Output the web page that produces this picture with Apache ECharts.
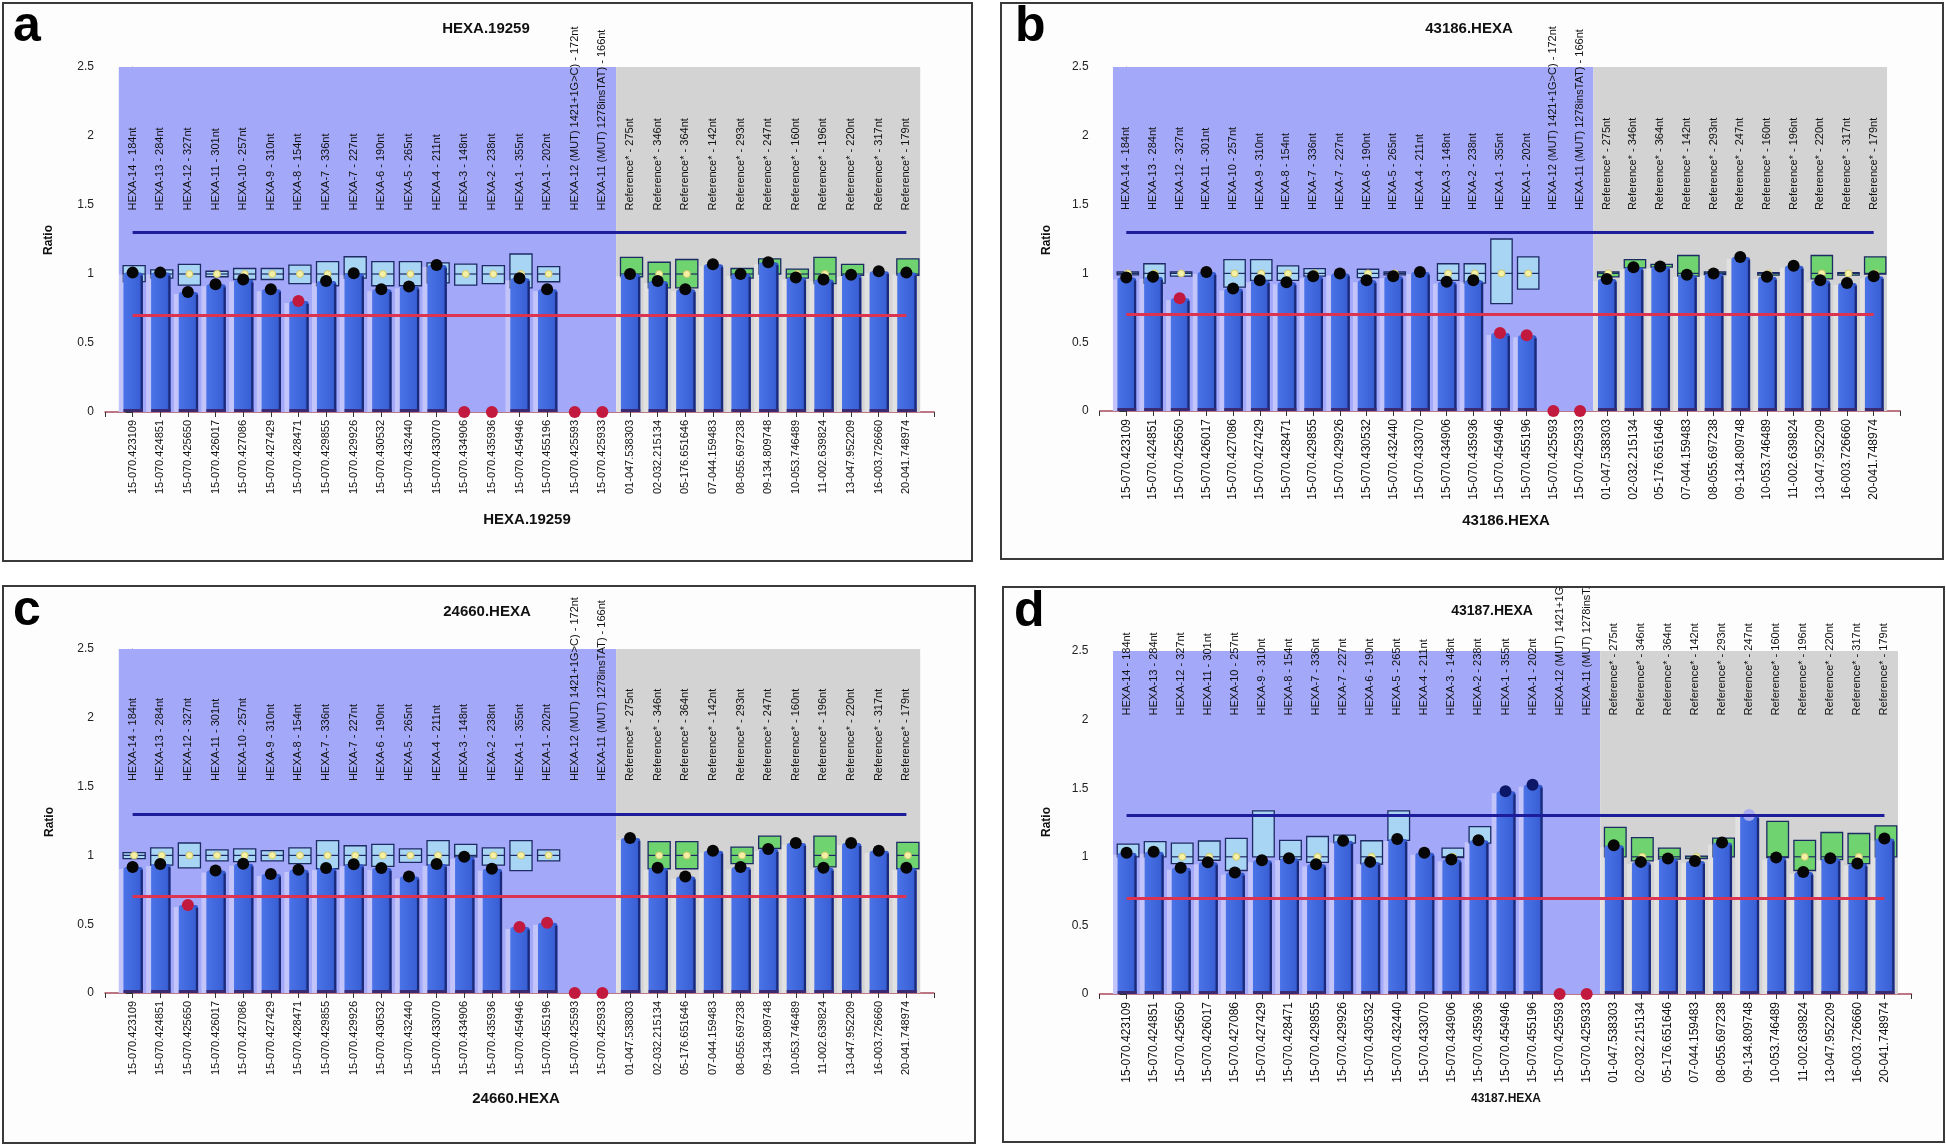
<!DOCTYPE html>
<html><head><meta charset="utf-8">
<script src="https://cdn.jsdelivr.net/npm/echarts/dist/echarts.min.js"></script>
<style>
body{margin:0;background:#fff;width:1946px;height:1146px;position:relative;overflow:hidden;}
.panel{position:absolute;box-sizing:border-box;border:2px solid #3a3a3a;background:#fdfdfd;overflow:hidden;}
</style></head><body>
<div id="pa" class="panel"></div>
<div id="pb" class="panel"></div>
<div id="pc" class="panel"></div>
<div id="pd" class="panel"></div>
<script>
// ---------- labels ----------
const hexaProbes = ['HEXA-14 - 184nt','HEXA-13 - 284nt','HEXA-12 - 327nt','HEXA-11 - 301nt','HEXA-10 - 257nt','HEXA-9 - 310nt','HEXA-8 - 154nt','HEXA-7 - 336nt','HEXA-7 - 227nt','HEXA-6 - 190nt','HEXA-5 - 265nt','HEXA-4 - 211nt','HEXA-3 - 148nt','HEXA-2 - 238nt','HEXA-1 - 355nt','HEXA-1 - 202nt','HEXA-12 (MUT) 1421+1G>C) - 172nt','HEXA-11 (MUT) 1278insTAT) - 166nt'];
const refProbes = ['Reference* - 275nt','Reference* - 346nt','Reference* - 364nt','Reference* - 142nt','Reference* - 293nt','Reference* - 247nt','Reference* - 160nt','Reference* - 196nt','Reference* - 220nt','Reference* - 317nt','Reference* - 179nt'];
const hexaIds = ['15-070.423109','15-070.424851','15-070.425650','15-070.426017','15-070.427086','15-070.427429','15-070.428471','15-070.429855','15-070.429926','15-070.430532','15-070.432440','15-070.433070','15-070.434906','15-070.435936','15-070.454946','15-070.455196','15-070.425593','15-070.425933'];
const refIds = ['01-047.538303','02-032.215134','05-176.651646','07-044.159483','08-055.697238','09-134.809748','10-053.746489','11-002.639824','13-047.952209','16-003.726660','20-041.748974'];
const yTicks = [0, 0.5, 1, 1.5, 2, 2.5];
const upperLimit = 1.3, lowerLimit = 0.7;

// ---------- panel a: HEXA.19259 ----------
const aRatio  = [1.01,1.01,0.87,0.925,0.96,0.89,0.805,0.95,1.005,0.89,0.91,1.065,0,0,0.97,0.89,0,0,  1.0,0.95,0.89,1.07,1.0,1.085,0.975,0.96,0.995,1.02,1.01];
// status: 0 normal, 1 low (red), 2 high, 3 borderline
const aStatus = [0,0,0,0,0,0,1,0,0,0,0,0,1,1,0,0,1,1,  0,0,0,0,0,0,0,0,0,0,0];
const aBoxLo  = [0.945,0.97,0.92,0.98,0.96,0.96,0.93,0.915,0.97,0.915,0.915,0.935,0.92,0.93,0.9,0.944,null,null,  0.98,0.9,0.9,null,0.97,1.0,0.97,0.93,0.99,null,0.99];
const aBoxHi  = [1.06,1.03,1.07,1.02,1.04,1.04,1.065,1.09,1.125,1.09,1.09,1.08,1.072,1.06,1.145,1.053,null,null,  1.12,1.085,1.105,null,1.04,1.11,1.035,1.12,1.07,null,1.11];

// ---------- panel b: 43186.HEXA ----------
const bRatio  = [0.97,0.975,0.82,1.01,0.89,0.95,0.935,0.98,1.0,0.95,0.98,1.01,0.94,0.95,0.567,0.55,0,0,  0.96,1.045,1.05,0.99,1.0,1.12,0.975,1.055,0.95,0.93,0.98];
const bStatus = [0,0,1,0,0,0,0,0,0,0,0,0,0,0,1,1,1,1,  0,0,0,0,0,0,0,0,0,0,0];
const bBoxLo  = [0.99,0.93,0.98,null,0.90,0.95,0.95,0.98,null,0.97,0.99,null,0.95,0.93,0.78,0.885,null,null,  0.975,1.04,1.045,0.98,0.995,null,0.99,null,0.96,0.99,0.995];
const bBoxHi  = [1.01,1.07,1.01,null,1.10,1.10,1.055,1.035,null,1.03,1.01,null,1.07,1.07,1.25,1.12,null,null,  1.01,1.10,1.065,1.13,1.01,null,1.005,null,1.13,1.005,1.12];

// ---------- panel c: 24660.HEXA ----------
const cRatio  = [0.916,0.937,0.64,0.89,0.94,0.864,0.895,0.908,0.935,0.908,0.846,0.937,0.99,0.903,0.48,0.51,0,0,  1.126,0.91,0.846,1.034,0.916,1.047,1.09,0.91,1.09,1.034,0.91];
const cStatus = [0,0,1,0,0,0,0,0,0,0,0,0,0,0,1,1,1,1,  0,0,0,0,0,0,0,0,0,0,0];
const cBoxLo  = [0.976,0.93,0.91,0.96,0.955,0.96,0.94,0.903,0.93,0.92,0.95,0.93,0.99,0.93,0.89,0.96,null,null,  null,0.903,0.903,null,0.94,1.05,null,0.916,null,null,0.903];
const cBoxHi  = [1.02,1.055,1.09,1.04,1.047,1.034,1.055,1.107,1.07,1.08,1.047,1.107,1.08,1.055,1.107,1.04,null,null,  null,1.1,1.1,null,1.06,1.14,null,1.14,null,null,1.095];

// ---------- panel d: 43187.HEXA ----------
const dRatio  = [1.03,1.036,0.92,0.96,0.885,0.975,0.99,0.945,1.117,0.963,1.13,1.03,0.98,1.12,1.477,1.526,0,0,  1.085,0.963,0.988,0.97,1.105,1.304,0.995,0.89,0.99,0.951,1.134];
const dStatus = [0,0,0,0,0,0,0,0,0,0,0,0,0,0,2,2,1,1,  0,0,0,0,0,3,0,0,0,0,0];
const dBoxLo  = [1.0,1.0,0.95,0.975,0.9,1.0,0.98,0.96,1.1,0.946,1.12,null,0.995,1.1,null,null,null,null,  1.0,0.97,0.983,0.995,1.0,null,0.995,0.9,0.98,0.95,1.0];
const dBoxHi  = [1.093,1.11,1.10,1.115,1.135,1.335,1.12,1.148,1.158,1.117,1.335,null,1.063,1.22,null,null,null,null,  1.215,1.14,1.063,1.005,1.136,null,1.258,1.12,1.177,1.17,1.226];

// ---------- build ----------
const topLabels = hexaProbes.concat(refProbes);
const bottomLabels = hexaIds.concat(refIds);
const nHexa = hexaProbes.length;
const N = topLabels.length;
const FAMILY = 'Liberation Sans';
const FONT = "'Liberation Sans', Arial, sans-serif";
const statusColor = ['#060606', '#c2193e', '#0d1768', '#a9abef'];

const panels = [
  {id:'pa', box:[2,2,971,560], letter:'a', letterXY:[13,52], title:'HEXA.19259', titleXY:[486,29], titleSize:15,
   sub:'HEXA.19259', subXY:[527,520], subSize:15, grid:[105,67,934,412], labelAt:1.46, ratioXY:[49,240], xFont:11,
   ratio:aRatio, status:aStatus, lo:aBoxLo, hi:aBoxHi},
  {id:'pb', box:[1000,2,944,558], letter:'b', letterXY:[1015,52], title:'43186.HEXA', titleXY:[1469,29], titleSize:15,
   sub:'43186.HEXA', subXY:[1506,521], subSize:15, grid:[1099.6,67,1900.4,411], labelAt:1.46, ratioXY:[1047,240], xFont:12,
   ratio:bRatio, status:bStatus, lo:bBoxLo, hi:bBoxHi},
  {id:'pc', box:[2,585,974,559], letter:'c', letterXY:[13,636], title:'24660.HEXA', titleXY:[487,612], titleSize:15,
   sub:'24660.HEXA', subXY:[516,1099], subSize:15, grid:[105,649,934,993], labelAt:1.54, ratioXY:[50,822], xFont:11,
   ratio:cRatio, status:cStatus, lo:cBoxLo, hi:cBoxHi},
  {id:'pd', box:[1002,586,943,557], letter:'d', letterXY:[1014,637], title:'43187.HEXA', titleXY:[1492,611], titleSize:14,
   sub:'43187.HEXA', subXY:[1506,1099], subSize:12, grid:[1099.5,651,1911.5,994], labelAt:2.03, ratioXY:[1047,822], xFont:12,
   ratio:dRatio, status:dStatus, lo:dBoxLo, hi:dBoxHi}
];

function render(p){
  const el = document.getElementById(p.id);
  el.style.left = p.box[0]+'px'; el.style.top = p.box[1]+'px';
  el.style.width = p.box[2]+'px'; el.style.height = p.box[3]+'px';
  const ox = p.box[0]+2, oy = p.box[1]+2;
  const W = p.box[2]-4, H = p.box[3]-4;
  const chart = echarts.init(el, null, {renderer:'canvas', width:W, height:H});

  const barData = p.ratio.map((v,i)=>[i,v]);
  const dotData = p.ratio.map((v,i)=>[i,v,p.status[i]]);
  const boxData = [];
  p.lo.forEach((l,i)=>{ if(l!=null && p.hi[i]!=null) boxData.push([i,l,p.hi[i]]); });
  const labData = topLabels.map((t,i)=>[i,p.labelAt]);

  const option = {
    animation:false,
    grid:{left:p.grid[0]-ox, top:p.grid[1]-oy, right:W-(p.grid[2]-ox), bottom:H-(p.grid[3]-oy), containLabel:false, outerBoundsMode:'none'},
    xAxis:{type:'value', min:-1, max:N, interval:1, splitLine:{show:false},
      axisLine:{show:true, lineStyle:{color:'#a84a5c', width:1.5}},
      axisTick:{show:true, length:5, lineStyle:{color:'#333'}},
      axisLabel:{rotate:90, fontSize:p.xFont, fontFamily:FONT, color:'#111', margin:8,
        showMinLabel:true, showMaxLabel:true,
        formatter:v=> (bottomLabels[v]!==undefined ? bottomLabels[v] : '')}},
    yAxis:{type:'value', min:yTicks[0], max:yTicks[yTicks.length-1], interval:yTicks[1]-yTicks[0], splitLine:{show:false},
      axisLine:{show:true, lineStyle:{color:'#b86a6a', width:1}},
      axisTick:{show:true, length:7, lineStyle:{color:'#333'}},
      axisLabel:{fontSize:12, fontFamily:FONT, color:'#222', margin:11}},
    graphic:[
      {type:'text', x:p.letterXY[0]-ox, y:p.letterXY[1]-oy, style:{text:p.letter, font:'bold 50px '+FONT, fill:'#000', textAlign:'left', textVerticalAlign:'bottom'}},
      {type:'text', x:p.titleXY[0]-ox, y:p.titleXY[1]-oy, style:{text:p.title, font:'bold '+p.titleSize+'px '+FONT, fill:'#111', textAlign:'center', textVerticalAlign:'middle'}},
      {type:'text', x:p.subXY[0]-ox, y:p.subXY[1]-oy, style:{text:p.sub, font:'bold '+p.subSize+'px '+FONT, fill:'#111', textAlign:'center', textVerticalAlign:'middle'}},
      {type:'text', x:p.ratioXY[0]-ox, y:p.ratioXY[1]-oy, rotation:Math.PI/2, style:{text:'Ratio', font:'bold 12px '+FONT, fill:'#111', textAlign:'center', textVerticalAlign:'middle'}}
    ],
    series:[
      {type:'scatter', z:0, silent:true, symbolSize:0, data:[[-5,-5]],
       markArea:{silent:true, data:[
         [{xAxis:-0.5, yAxis:0, itemStyle:{color:'#a4a8f8'}}, {xAxis:nHexa-0.5, yAxis:2.5}],
         [{xAxis:nHexa-0.5, yAxis:0, itemStyle:{color:'#d3d3d3'}}, {xAxis:N-0.5, yAxis:2.5}]
       ]}},
      {type:'scatter', z:1, silent:true, symbolSize:0, data:[[-5,-5]],
       markLine:{silent:true, symbol:'none', label:{show:false}, data:[
         [{coord:[0,lowerLimit], lineStyle:{color:'#dc3450', width:3, type:'solid'}}, {coord:[N-1,lowerLimit]}],
         [{coord:[0,upperLimit], lineStyle:{color:'#1d1d9c', width:3, type:'solid'}}, {coord:[N-1,upperLimit]}]
       ]}},
      {type:'custom', z:2, silent:true, data:boxData, encode:{x:0, y:[1,2]},
       renderItem:(params, api)=>{
         const i=api.value(0), lo=api.value(1), hi=api.value(2);
         const band=api.size([1,0])[0];
         const a=api.coord([i,hi]), b=api.coord([i,lo]);
         const w=band*0.8, x0=a[0]-w/2+1.5;
         const isRef = i>=nHexa;
         const ch=[{type:'rect', shape:{x:x0, y:a[1], width:w, height:Math.max(b[1]-a[1],2.5)},
           style:{fill:isRef?'#6fd46f':'#a8d5f4', stroke:'#1d2a64', lineWidth:1.3}}];
         if(lo<1 && hi>1){
           const m=api.coord([i,1]);
           ch.push({type:'line', shape:{x1:x0, y1:m[1], x2:x0+w, y2:m[1]}, style:{stroke:'#1d2a64', lineWidth:1.2}});
           ch.push({type:'circle', shape:{cx:a[0]+1.5, cy:m[1], r:3.5}, style:{fill:'#f4f1a6', stroke:'#cfc76a', lineWidth:1}});
         }
         return {type:'group', children:ch};
       }},
      {type:'custom', z:3, silent:true, data:barData, encode:{x:0, y:1},
       renderItem:(params, api)=>{
         const i=api.value(0), v=api.value(1);
         if(!(v>0)) return null;
         const band=api.size([1,0])[0];
         const top=api.coord([i,v]), base=api.coord([i,0]);
         const w=band*0.7, x0=top[0]-band*0.33;
         const h=base[1]-top[1];
         const grad=new echarts.graphic.LinearGradient(0,0,1,0,[{offset:0,color:'#4b73e8'},{offset:0.8,color:'#3a61d6'},{offset:1,color:'#2c4fc4'}]);
         return {type:'group', children:[
           {type:'rect', shape:{x:x0-band*0.18, y:top[1]+2, width:band*0.18, height:h-2}, style:{fill:'rgba(255,255,255,0.33)'}},
           {type:'rect', shape:{x:x0, y:top[1], width:w, height:h, r:[3,3,0,0]}, style:{fill:grad}},
           {type:'rect', shape:{x:x0+w-2.2, y:top[1]+3, width:2.2, height:h-3}, style:{fill:'#1b2a78'}},
           {type:'rect', shape:{x:x0, y:base[1]-3, width:w, height:3}, style:{fill:'#3a2a72'}}
         ]};
       }},
      {type:'scatter', z:4, silent:true, symbol:'circle', symbolSize:12, data:dotData,
       itemStyle:{color:(prm)=>statusColor[prm.data[2]], opacity:1}},
      {type:'custom', z:5, silent:true, data:labData, encode:{x:0, y:1},
       renderItem:(params, api)=>{
         const pt=api.coord([api.value(0), api.value(1)]);
         return {type:'text', x:pt[0], y:pt[1], rotation:Math.PI/2,
           style:{text:topLabels[params.dataIndex], fontSize:11, fontFamily:FAMILY, fill:'#111', align:'left', verticalAlign:'middle'}};
       }}
    ]
  };
  chart.setOption(option);
}
panels.forEach(render);
</script>
</body></html>
